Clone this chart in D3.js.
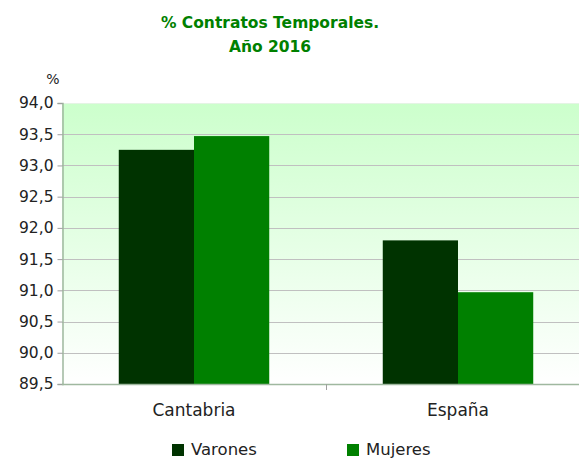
<!DOCTYPE html>
<html>
<head>
<meta charset="utf-8">
<script src="https://cdn.jsdelivr.net/npm/d3@7"></script>
<style>
  body { margin: 0; background: #fff; }
  text { font-family: "DejaVu Sans", sans-serif; }
</style>
</head>
<body>
<script>
// data
var categories = ["Cantabria", "España"];
var seriesNames = ["Varones", "Mujeres"];
var varones = [93.25, 91.80];
var mujeres = [93.47, 90.97];
var yTicks = [89.5, 90.0, 90.5, 91.0, 91.5, 92.0, 92.5, 93.0, 93.5, 94.0];
var colors = ["#003300", "#008000"];

var width = 579, height = 459;
var plot = {left: 62, right: 590, top: 103, bottom: 384};

var svg = d3.select("body").append("svg")
    .attr("width", width)
    .attr("height", height);

var defs = svg.append("defs");
var grad = defs.append("linearGradient")
    .attr("id", "bg")
    .attr("x1", 0).attr("y1", 0).attr("x2", 0).attr("y2", 1);
grad.append("stop").attr("offset", "0%").attr("stop-color", "#ccffcc");
grad.append("stop").attr("offset", "100%").attr("stop-color", "#ffffff");

var x0 = d3.scaleBand()
    .domain(categories)
    .range([plot.left, plot.right])
    .paddingInner(0.43)
    .paddingOuter(0.215);

var x1 = d3.scaleBand()
    .domain(seriesNames)
    .range([0, x0.bandwidth()]);

var y = d3.scaleLinear()
    .domain([89.5, 94.0])
    .range([plot.bottom, plot.top]);

// background
svg.append("rect")
    .attr("x", plot.left)
    .attr("y", plot.top)
    .attr("width", width - plot.left)
    .attr("height", plot.bottom - plot.top)
    .attr("fill", "url(#bg)");

// gridlines
svg.append("g").selectAll("line")
    .data(yTicks.slice(1))
  .enter().append("line")
    .attr("x1", plot.left)
    .attr("x2", width)
    .attr("y1", function(d) { return Math.round(y(d)) + 0.5; })
    .attr("y2", function(d) { return Math.round(y(d)) + 0.5; })
    .attr("stroke", function(d) { return d === 94.0 ? "#e4f4e4" : "#c0c0c0"; })
    .attr("stroke-width", 1);

// bars
var rows = categories.map(function(c, i) {
  return {cat: c, values: [varones[i], mujeres[i]]};
});

var group = svg.append("g").selectAll("g")
    .data(rows)
  .enter().append("g")
    .attr("transform", function(d) { return "translate(" + x0(d.cat) + ",0)"; });

group.selectAll("rect")
    .data(function(d) { return d.values.map(function(v, j) { return {name: seriesNames[j], value: v, j: j}; }); })
  .enter().append("rect")
    .attr("x", function(d) { return x1(d.name); })
    .attr("width", x1.bandwidth())
    .attr("y", function(d) { return y(d.value); })
    .attr("height", function(d) { return plot.bottom - y(d.value); })
    .attr("fill", function(d) { return colors[d.j]; });

// y axis
var yAxis = d3.axisLeft(y)
    .tickValues(yTicks)
    .tickSize(5)
    .tickFormat(function(d) { return d3.format(".1f")(d).replace(".", ","); });

var gy = svg.append("g")
    .attr("transform", "translate(" + (plot.left + 0.5) + ",0)")
    .call(yAxis);
gy.select(".domain").attr("stroke", "#9fb89f").attr("stroke-width", 1.5);
gy.selectAll(".tick line").attr("stroke", "#9f9f9f");
gy.selectAll(".tick text")
    .attr("x", -9)
    .attr("fill", "#222")
    .style("font-size", "15.5px");

// x axis
svg.append("line")
    .attr("x1", plot.left)
    .attr("x2", width)
    .attr("y1", plot.bottom + 0.5)
    .attr("y2", plot.bottom + 0.5)
    .attr("stroke", "#9fb89f")
    .attr("stroke-width", 1.5);

// category divider tick
var divX = (x0(categories[0]) + x0.bandwidth() + x0(categories[1])) / 2;
svg.append("line")
    .attr("x1", Math.round(divX) + 0.5)
    .attr("x2", Math.round(divX) + 0.5)
    .attr("y1", plot.bottom)
    .attr("y2", plot.bottom + 6)
    .attr("stroke", "#9f9f9f");

svg.append("g").selectAll("text")
    .data(categories)
  .enter().append("text")
    .attr("x", function(d) { return x0(d) + x0.bandwidth() / 2; })
    .attr("y", 416)
    .attr("text-anchor", "middle")
    .attr("fill", "#222")
    .style("font-size", "17px")
    .text(function(d) { return d; });

// % unit
svg.append("text")
    .attr("x", 53)
    .attr("y", 84)
    .attr("text-anchor", "middle")
    .attr("fill", "#222")
    .style("font-size", "14px")
    .text("%");

// title
var title = svg.append("text")
    .attr("text-anchor", "middle")
    .attr("fill", "#008000")
    .style("font-size", "15.5px")
    .style("font-weight", "bold");
title.append("tspan").attr("x", 270).attr("y", 28).text("% Contratos Temporales.");
title.append("tspan").attr("x", 270).attr("y", 52).text("Año 2016");

// legend
var legendX = [172, 347];
var legend = svg.append("g").selectAll("g")
    .data(seriesNames)
  .enter().append("g")
    .attr("transform", function(d, i) { return "translate(" + legendX[i] + ",444)"; });

legend.append("rect")
    .attr("width", 12)
    .attr("height", 12)
    .attr("fill", function(d, i) { return colors[i]; });

legend.append("text")
    .attr("x", 19)
    .attr("y", 11)
    .attr("fill", "#222")
    .style("font-size", "16.5px")
    .text(function(d) { return d; });
</script>
</body>
</html>
